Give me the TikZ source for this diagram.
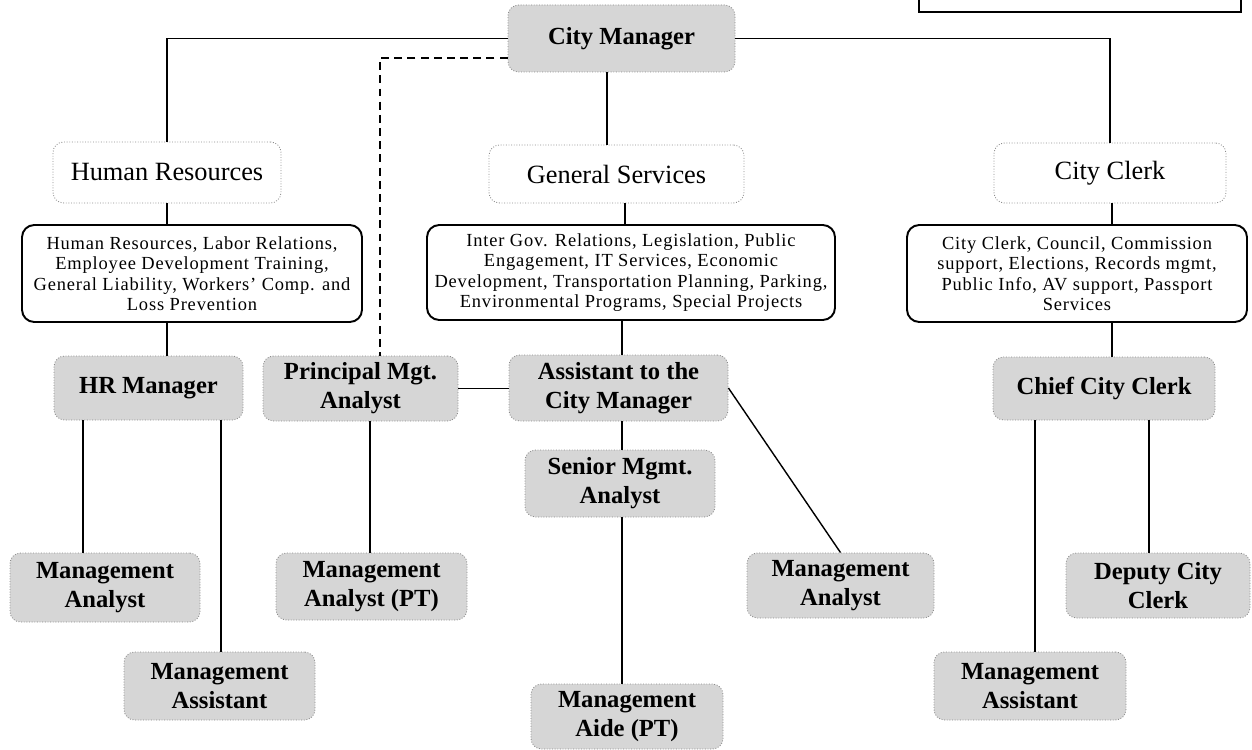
\documentclass[tikz,border=0pt]{standalone}
\usepackage{fontspec}
\setmainfont{Liberation Serif}
\usetikzlibrary{calc}

\begin{document}
\begin{tikzpicture}[x=0.02cm,y=-0.02cm,
  corners/.style n args={4}{minimum width={(#3-#1)*0.02cm},
    minimum height={(#4-#2)*0.02cm}, at={({(#1+#3)/2},{(#2+#4)/2})}},
  gbox/.style={draw=black!45, densely dotted, line width=0.5pt, fill=black!16,
    rounded corners=6pt, inner sep=0pt, align=center,
    font=\fontsize{14}{16.5}\selectfont\bfseries},
  wbox/.style={draw=black!45, densely dotted, line width=0.5pt, fill=white,
    rounded corners=6pt, inner sep=0pt, align=center,
    font=\fontsize{15}{17}\selectfont},
  dbox/.style={draw=black, line width=1.1pt, rounded corners=7pt, fill=white,
    inner sep=0pt, align=center,
    font=\fontsize{10.5}{11.6}\selectfont\addfontfeatures{LetterSpace=4.5}},
  link/.style={draw=black, line width=0.8pt},
  dotlink/.style={draw=black, line width=0.8pt, dash pattern=on 4.5pt off 3pt},
]
\useasboundingbox[fill=white] (0,0) rectangle (1252,750);

% partly visible frame at the top right corner
\draw[line width=1.2pt] (919,-10) -- (919,12) -- (1241,12) -- (1241,-10);

% top level
\node[gbox, corners={508}{5}{735}{72}] (cm) {City Manager};

% departments
\node[wbox, corners={53}{142}{281}{203}] (hr) {Human Resources};
\node[wbox, corners={489}{145}{744}{203}] (gs) {General Services};
\node[wbox, corners={994}{143}{1226}{203}] (cc) {City Clerk};

% department responsibilities
\node[dbox, corners={22}{225}{362}{322}] (hrd) {Human Resources, Labor Relations,\\Employee Development Training,\\General Liability, Workers' Comp. and\\Loss Prevention};
\node[dbox, corners={427}{225}{835}{320}] (gsd) {Inter Gov. Relations, Legislation, Public\\Engagement, IT Services, Economic\\Development, Transportation Planning, Parking,\\Environmental Programs, Special Projects};
\node[dbox, corners={907}{225}{1247}{322}] (ccd) {City Clerk, Council, Commission\\support, Elections, Records mgmt,\\Public Info, AV support, Passport\\Services};

% managers
\node[gbox, corners={54}{356}{243}{420}] (hrm) {HR Manager};
\node[gbox, corners={263}{356}{458}{421}] (pma) {Principal Mgt.\\Analyst};
\node[gbox, corners={509}{355}{728}{421}] (atcm) {Assistant to the\\City Manager};
\node[gbox, corners={993}{357}{1215}{420}] (ccc) {Chief City Clerk};

% staff
\node[gbox, corners={525}{450}{715}{517}] (sma) {Senior Mgmt.\\Analyst};
\node[gbox, corners={10}{553}{200}{622}] (ma1) {Management\\Analyst};
\node[gbox, corners={276}{553}{467}{620}] (mapt) {Management\\Analyst (PT)};
\node[gbox, corners={747}{553}{934}{618}] (ma2) {Management\\Analyst};
\node[gbox, corners={1066}{553}{1250}{618}] (dcc) {Deputy City\\Clerk};
\node[gbox, corners={124}{652}{315}{720}] (mas1) {Management\\Assistant};
\node[gbox, corners={934}{652}{1126}{720}] (mas2) {Management\\Assistant};
\node[gbox, corners={531}{684}{723}{749}] (aide) {Management\\Aide (PT)};

% connector columns
\coordinate (xcm) at (607,0);
\coordinate (xgs) at (625,0);
\coordinate (xat) at (622,0);
\coordinate (xhr) at (167,0);
\coordinate (xcc) at (1112,0);
\coordinate (xh1) at (83,0);
\coordinate (xh2) at (221,0);
\coordinate (xpm) at (370,0);
\coordinate (xc1) at (1035,0);
\coordinate (xc2) at (1149,0);
\coordinate (dk) at (380,58);

% reporting lines
\path[link] (hr.north) |- (cm);
\path[link] (cc.north) |- (cm);
\path[link] (cm.south -| xcm) -- (gs.north -| xcm);
\path[link] (hr.south -| xhr) -- (hrd.north -| xhr);
\path[link] (gs.south -| xgs) -- (gsd.north -| xgs);
\path[link] (cc.south -| xcc) -- (ccd.north -| xcc);
\path[link] (hrd.south -| xhr) -- (hrm.north -| xhr);
\path[link] (gsd.south -| xat) -- (atcm.north -| xat);
\path[link] (ccd.south -| xcc) -- (ccc.north -| xcc);
\path[dotlink] (cm.west |- dk) -- (dk) -- (pma.north -| dk);
\path[link] (pma.east) -- (pma.east -| atcm.west);
\path[link] (hrm.south -| xh1) -- (ma1.north -| xh1);
\path[link] (hrm.south -| xh2) -- (mas1.north -| xh2);
\path[link] (pma.south -| xpm) -- (mapt.north -| xpm);
\path[link] (atcm.south -| xat) -- (sma.north -| xat);
\path[link] (sma.south -| xat) -- (aide.north -| xat);
\path[link] (atcm.east) -- (ma2.north);
\path[link] (ccc.south -| xc1) -- (mas2.north -| xc1);
\path[link] (ccc.south -| xc2) -- (dcc.north -| xc2);
\end{tikzpicture}
\end{document}
